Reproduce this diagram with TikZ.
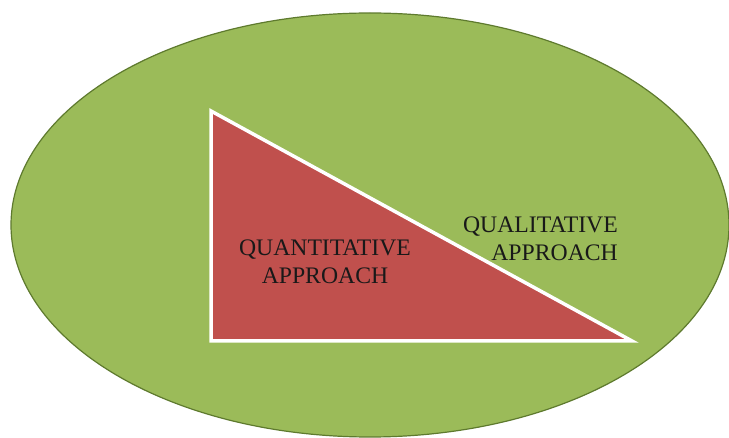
\documentclass[tikz,border=0pt]{standalone}
\usepackage{fontspec}
\setmainfont{Liberation Serif}
\usetikzlibrary{shapes.geometric}
\definecolor{olive}{HTML}{9BBB59}
\definecolor{olivedark}{HTML}{5E7A2E}
\definecolor{brick}{HTML}{C0504D}
\begin{document}
\begin{tikzpicture}[x=1pt,y=-1pt,
  lbl/.style={font=\fontsize{23.7}{28}\selectfont, text=black!90, inner sep=0pt}]
\useasboundingbox (0,0) rectangle (729,438);
\node[draw=olivedark, line width=1.2pt, fill=olive, ellipse, minimum width=718, minimum height=424, inner sep=0pt] (ell) at (370,225) {};
\coordinate (ta) at (211,111);
\coordinate (tb) at (211,341);
\coordinate (tc) at (632,341);
\draw[white, line width=3.5pt, fill=brick, line join=miter] (ta) -- (tb) -- (tc) -- cycle;
\node[lbl, align=center] (quant) at (325,262) {QUANTITATIVE\\APPROACH};
\node[lbl, align=right, anchor=east] (qual) at (618,239) {QUALITATIVE\\APPROACH};
\end{tikzpicture}
\end{document}
